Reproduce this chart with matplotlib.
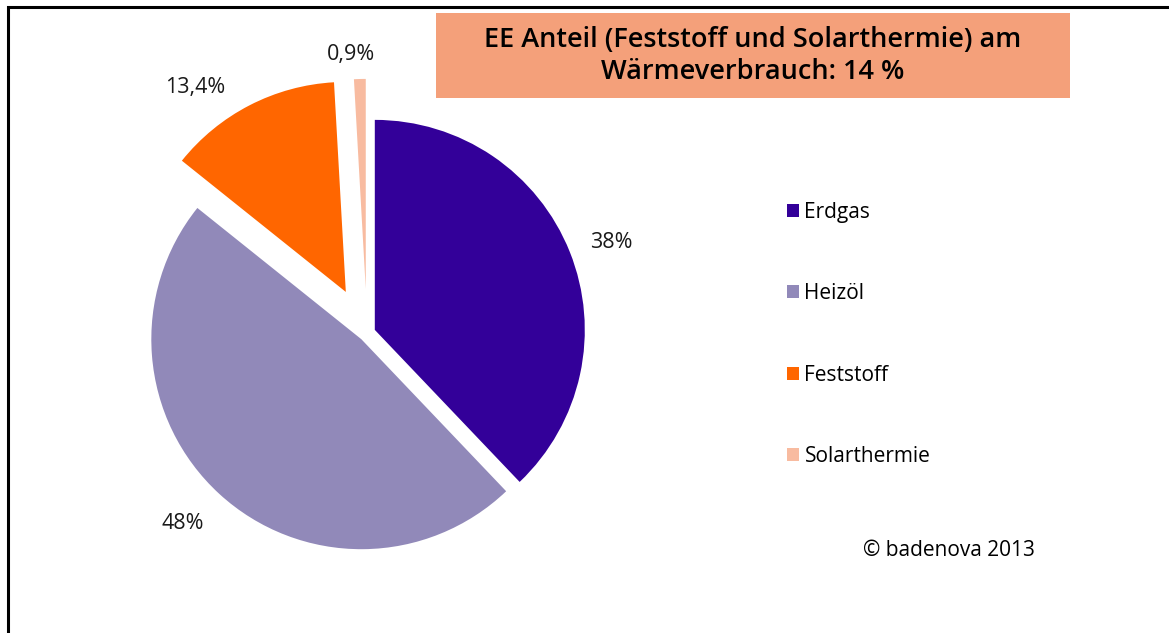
import numpy as np
import matplotlib.pyplot as plt
from matplotlib.patches import Rectangle

# Wärmeverbrauch nach Energieträger
categories = ["Erdgas", "Heizöl", "Feststoff", "Solarthermie"]
shares = [38.0, 48.0, 13.4, 0.9]
pct_labels = ["38%", "48%", "13,4%", "0,9%"]
colors = ["#330099", "#9189B9", "#FF6600", "#F8BBA0"]
explode = [0.04, 0.04, 0.22, 0.21]

title = "EE Anteil (Feststoff und Solarthermie) am\nWärmeverbrauch: 14 %"

plt.rcParams['font.family'] = ['Open Sans', 'DejaVu Sans']

W, H = 1169, 633
fig = plt.figure(figsize=(W / 100, H / 100), dpi=100)
ax = fig.add_axes([0, 0, 1, 1])

wedges, texts = ax.pie(shares, labels=pct_labels, colors=colors, explode=explode,
                       startangle=90, counterclock=False, labeldistance=1.2,
                       wedgeprops=dict(edgecolor='none'),
                       textprops=dict(fontsize=15.5, color='#1a1a1a', ha='center', va='center'))

# label placement like the original (distance from wedge centre, extra angle in deg)
lab_dist = [1.2, 1.22, 1.21, 1.12]
lab_turn = [-1.5, -1.5, 9, 2]
for w, t, d, a in zip(wedges, texts, lab_dist, lab_turn):
    th = np.deg2rad((w.theta1 + w.theta2) / 2 + a)
    t.set_position((w.center[0] + d * w.r * np.cos(th), w.center[1] + d * w.r * np.sin(th)))

# pie centre and radius in pixels -> limits (after pie, which resets them)
cx, cy, R = 367, 333, 210
ax.set_xlim(-cx / R, (W - cx) / R)
ax.set_ylim(-(H - cy) / R, cy / R)
ax.set_aspect('equal')
ax.axis('off')

# frame around the chart (cut at right and bottom)
fig.patches.append(Rectangle((8 / W, -0.05), 1.1, 1 - 7 / H + 0.05, transform=fig.transFigure,
                             fill=False, edgecolor='black', linewidth=2.2))

# title box
fig.patches.append(Rectangle((436 / W, 1 - 98 / H), (1070 - 436) / W, (98 - 13) / H,
                             transform=fig.transFigure, facecolor='#F4A07A', edgecolor='none'))
fig.text(753 / W, 1 - 56 / H, title, ha='center', va='center', fontsize=19.5,
         fontweight='semibold', linespacing=1.2)

leg = ax.legend(wedges, categories, loc='upper left', bbox_to_anchor=(768 / W, 1 - 183 / H),
                bbox_transform=fig.transFigure, frameon=False, fontsize=15,
                handlelength=0.6, handleheight=0.6, handletextpad=0.25, labelspacing=2.9)

fig.text(863 / W, 1 - 551 / H, "© badenova 2013", ha='left', va='center', fontsize=15)

plt.savefig("out.png", dpi=100)
